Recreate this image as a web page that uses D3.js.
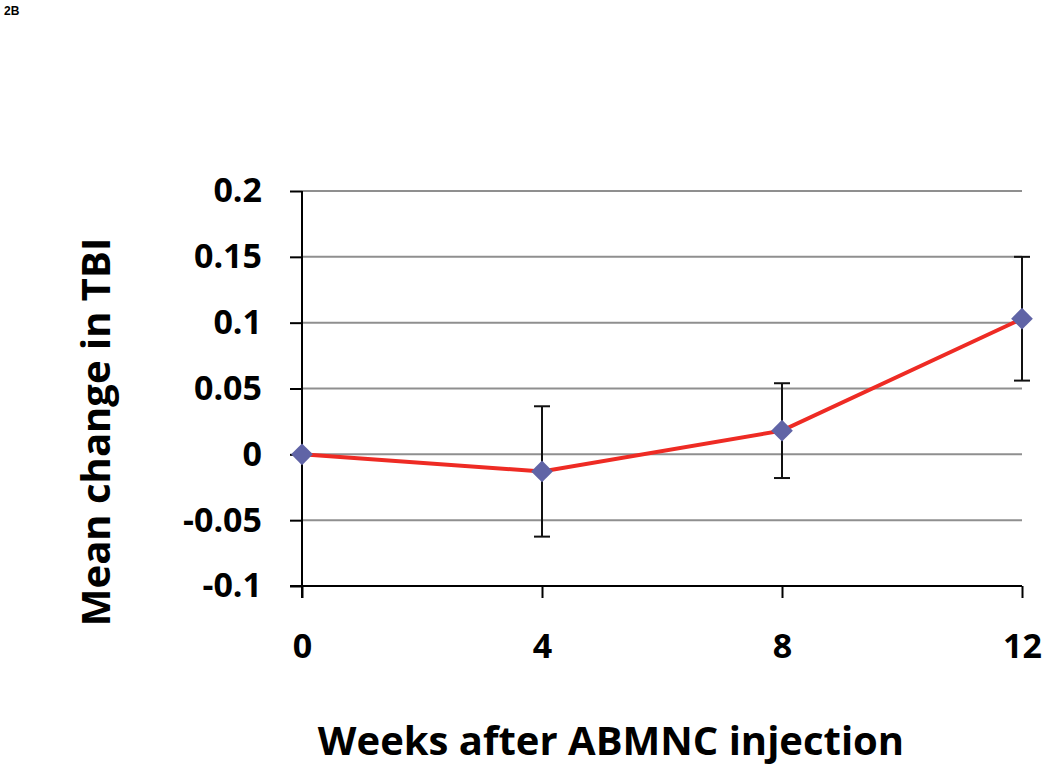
<!DOCTYPE html>
<html>
<head>
<meta charset="utf-8">
<script src="https://cdn.jsdelivr.net/npm/d3@7"></script>
<style>
  body { margin: 0; background: #fff; }
  svg { display: block; }
</style>
</head>
<body>
<svg id="chart" width="1050" height="772"></svg>
<script>
// data
var weeks = [0, 4, 8, 12];
var meanChange = [0, -0.013, 0.018, 0.103];
var errBar = [0, 0.0495, 0.036, 0.047];
var yTicks = [-0.1, -0.05, 0, 0.05, 0.1, 0.15, 0.2];
var yTickLabels = ["-0.1", "-0.05", "0", "0.05", "0.1", "0.15", "0.2"];

var svg = d3.select("#chart");
var fontFam = "'Open Sans', 'Noto Sans', sans-serif";

// plot box (note: "top" is taken by window.top)
var plotL = 302, plotR = 1022, plotT = 191, plotB = 586;

var x = d3.scaleLinear().domain([0, 12]).range([plotL, plotR]);
var y = d3.scaleLinear().domain([-0.1, 0.2]).range([plotB, plotT]);

// panel label
svg.append("text")
  .attr("x", 4).attr("y", 15)
  .style("font-family", "Arial, 'Liberation Sans', sans-serif")
  .style("font-size", "12px").style("font-weight", "bold")
  .text("2B");

// gridlines
svg.append("g").selectAll("line")
  .data(yTicks.filter(function(d) { return d > -0.1; }))
  .enter().append("line")
  .attr("x1", plotL).attr("x2", plotR)
  .attr("y1", function(d) { return y(d); })
  .attr("y2", function(d) { return y(d); })
  .attr("stroke", "#8f8f8f")
  .attr("stroke-width", 2);

// y axis
var yAxis = d3.axisLeft(y).tickValues(yTicks)
  .tickFormat(function(d, i) { return yTickLabels[i]; })
  .tickSizeInner(12).tickSizeOuter(0).tickPadding(28);
var gy = svg.append("g").attr("transform", "translate(" + plotL + ",0)").call(yAxis);
gy.select(".domain").remove();
gy.append("line").attr("x1", 0).attr("x2", 0).attr("y1", plotT).attr("y2", plotB + 12)
  .attr("stroke", "#000").attr("stroke-width", 2);
gy.selectAll(".tick line").attr("stroke", "#000").attr("stroke-width", 2);
gy.selectAll(".tick text")
  .style("font-family", fontFam).style("font-size", "34px").style("font-weight", "bold")
  .attr("fill", "#000");

// x axis
var xAxis = d3.axisBottom(x).tickValues(weeks).tickFormat(d3.format("d"))
  .tickSizeInner(12).tickSizeOuter(0).tickPadding(36);
var gx = svg.append("g").attr("transform", "translate(0," + plotB + ")").call(xAxis);
gx.select(".domain").remove();
gx.append("line").attr("x1", plotL - 12).attr("x2", plotR).attr("y1", 0).attr("y2", 0)
  .attr("stroke", "#000").attr("stroke-width", 2);
gx.selectAll(".tick line").attr("stroke", "#000").attr("stroke-width", 2);
gx.selectAll(".tick text")
  .style("font-family", fontFam).style("font-size", "34px").style("font-weight", "bold")
  .attr("fill", "#000");

// series
var pts = weeks.map(function(w, i) { return { w: w, v: meanChange[i], e: errBar[i] }; });

var line = d3.line().x(function(d) { return x(d.w); }).y(function(d) { return y(d.v); });
svg.append("path").datum(pts)
  .attr("d", line)
  .attr("fill", "none")
  .attr("stroke", "#ee2b24")
  .attr("stroke-width", 4);

// error bars
var eb = svg.append("g").selectAll("g").data(pts.filter(function(d) { return d.e > 0; }))
  .enter().append("g").attr("stroke", "#111").attr("stroke-width", 2);
eb.append("line")
  .attr("x1", function(d) { return x(d.w); }).attr("x2", function(d) { return x(d.w); })
  .attr("y1", function(d) { return y(d.v + d.e); }).attr("y2", function(d) { return y(d.v - d.e); });
eb.append("line")
  .attr("x1", function(d) { return x(d.w) - 8; }).attr("x2", function(d) { return x(d.w) + 8; })
  .attr("y1", function(d) { return y(d.v + d.e); }).attr("y2", function(d) { return y(d.v + d.e); });
eb.append("line")
  .attr("x1", function(d) { return x(d.w) - 8; }).attr("x2", function(d) { return x(d.w) + 8; })
  .attr("y1", function(d) { return y(d.v - d.e); }).attr("y2", function(d) { return y(d.v - d.e); });

// diamonds
svg.append("g").selectAll("path").data(pts).enter().append("path")
  .attr("d", d3.symbol().type(d3.symbolDiamond2).size(300))
  .attr("transform", function(d) { return "translate(" + x(d.w) + "," + y(d.v) + ")"; })
  .attr("fill", "#6064a6");

// axis titles
svg.append("text")
  .attr("x", 611).attr("y", 755)
  .attr("text-anchor", "middle")
  .style("font-family", fontFam).style("font-size", "40px").style("font-weight", "bold")
  .text("Weeks after ABMNC injection");

svg.append("text")
  .attr("transform", "translate(110,432) rotate(-90)")
  .attr("text-anchor", "middle")
  .style("font-family", fontFam).style("font-size", "40px").style("font-weight", "bold")
  .text("Mean change in TBI");
</script>
</body>
</html>
